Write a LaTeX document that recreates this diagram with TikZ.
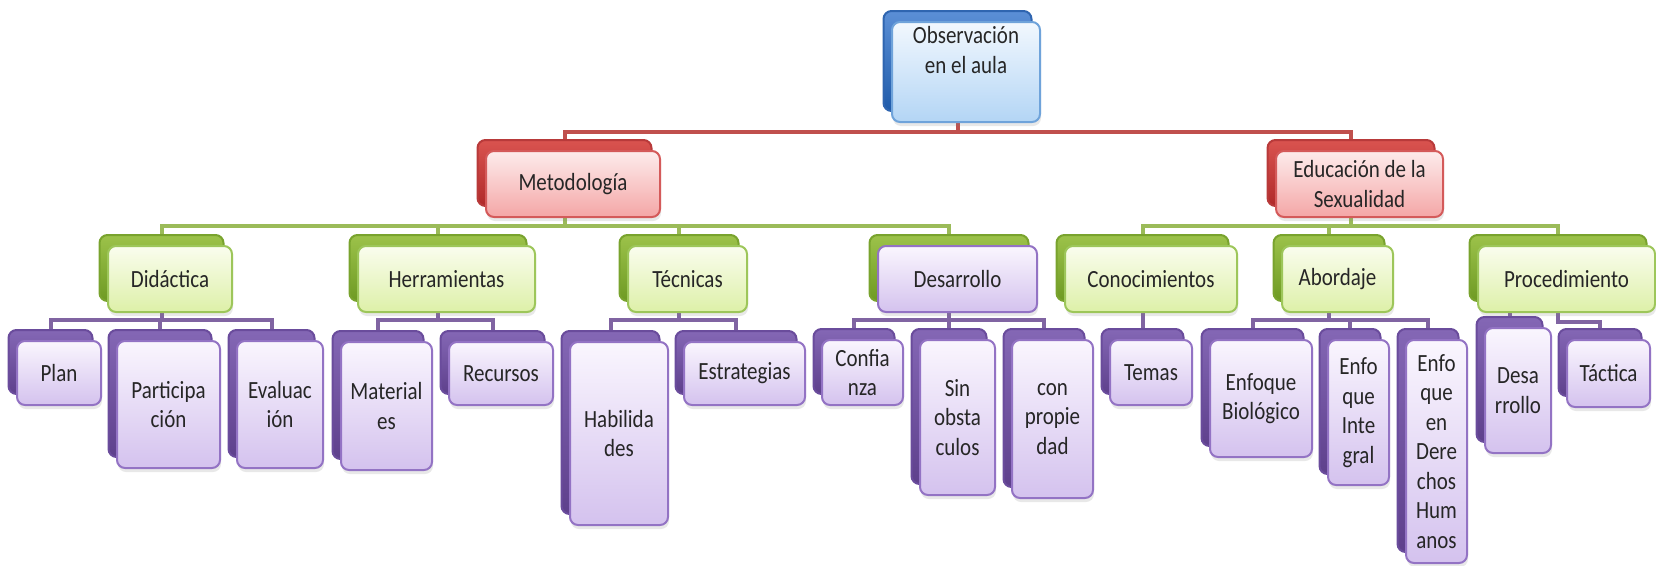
\documentclass[tikz,border=0pt]{standalone}
\usepackage{fontspec}
\setmainfont{Carlito}[FakeStretch=0.85]
\usetikzlibrary{shadows}
\pgfdeclarelayer{bg}
\pgfsetlayers{bg,main}
\definecolor{cRed}{HTML}{C0504D}
\definecolor{cGreen}{HTML}{9BBB59}
\definecolor{cPurple}{HTML}{8064A2}
\definecolor{bBlueT}{HTML}{5B8FD6}\definecolor{bBlueB}{HTML}{1F5BAA}\definecolor{bBlueD}{HTML}{2F65B0}
\definecolor{fBlueT}{HTML}{F2F8FE}\definecolor{fBlueB}{HTML}{B3D5F5}\definecolor{fBlueD}{HTML}{6FA3DA}
\definecolor{bRedT}{HTML}{D9534F}\definecolor{bRedB}{HTML}{B02A2A}\definecolor{bRedD}{HTML}{B83A3A}
\definecolor{fRedT}{HTML}{FDECEC}\definecolor{fRedB}{HTML}{F4A6A6}\definecolor{fRedD}{HTML}{D45A5A}
\definecolor{bGreenT}{HTML}{9CC24A}\definecolor{bGreenB}{HTML}{6E9A23}\definecolor{bGreenD}{HTML}{79A32E}
\definecolor{fGreenT}{HTML}{FAFDEE}\definecolor{fGreenB}{HTML}{DDF0A8}\definecolor{fGreenD}{HTML}{9DC65A}
\definecolor{bPurT}{HTML}{8467B5}\definecolor{bPurB}{HTML}{5E408C}\definecolor{bPurD}{HTML}{6A4C9C}
\definecolor{fPurT}{HTML}{FAF6FE}\definecolor{fPurB}{HTML}{D4C2EE}\definecolor{fPurD}{HTML}{9373C4}
\definecolor{txt}{HTML}{262626}
\tikzset{
  card/.style={rectangle, rounded corners=8pt, line width=2pt, inner sep=2pt,
    align=center, text=txt, font=\fontsize{24.7}{29.5}\selectfont},
  frontcard/.style={card, drop shadow={opacity=0.18, shadow xshift=1pt, shadow yshift=-4pt}},
  bblue/.style={card, draw=bBlueD, top color=bBlueT, bottom color=bBlueB},
  fblue/.style={frontcard, draw=fBlueD, top color=fBlueT, bottom color=fBlueB},
  bred/.style={card, draw=bRedD, top color=bRedT, bottom color=bRedB},
  fred/.style={frontcard, draw=fRedD, top color=fRedT, bottom color=fRedB},
  bgreen/.style={card, draw=bGreenD, top color=bGreenT, bottom color=bGreenB},
  fgreen/.style={frontcard, draw=fGreenD, top color=fGreenT, bottom color=fGreenB},
  bpur/.style={card, draw=bPurD, top color=bPurT, bottom color=bPurB},
  fpur/.style={frontcard, draw=fPurD, top color=fPurT, bottom color=fPurB},
  redline/.style={draw=cRed, line width=4pt},
  greenline/.style={draw=cGreen, line width=4pt},
  purline/.style={draw=cPurple, line width=4pt},
}
% #1 name, #2 back style, #3 front style, #4 cx, #5 cy, #6 w, #7 h, #8 text
\newcommand\cardbox[8]{%
  \node[#2, minimum width=#6pt, minimum height=#7pt] (#1b) at ({#4-8.5},{#5-11}) {};
  \node[#3, minimum width=#6pt, minimum height=#7pt] (#1) at (#4,#5) {#8};
}
\begin{document}
\begin{tikzpicture}[x=1pt,y=-1pt]
\useasboundingbox (0,0) rectangle (1656,565);
% top
\node[bblue, minimum width=148pt, minimum height=100pt] (obsb) at (957.5,61) {};
\node[fblue, minimum width=148pt, minimum height=100pt] (obs) at (966,72) {};
\node[card, inner sep=0pt] (obst) at (966,50) {Observación\\en el aula};
% level 1
\cardbox{met}{bred}{fred}{573}{184}{174}{66}{Metodología}
\cardbox{edu}{bred}{fred}{1359.5}{184}{167}{66}{Educación de la\\Sexualidad}
% level 2
\cardbox{did}{bgreen}{fgreen}{170}{279}{124}{66}{Didáctica}
\cardbox{her}{bgreen}{fgreen}{446.5}{279}{177}{66}{Herramientas}
\cardbox{tec}{bgreen}{fgreen}{687.5}{279}{119}{66}{Técnicas}
\cardbox{des}{bgreen}{fpur}{957.5}{279}{159}{66}{Desarrollo}
\cardbox{con}{bgreen}{fgreen}{1151}{279}{172}{66}{Conocimientos}
\cardbox{abo}{bgreen}{fgreen}{1337.5}{279}{111}{66}{Abordaje}
\cardbox{pro}{bgreen}{fgreen}{1566.5}{279}{177}{66}{Procedimiento}
% level 3
\cardbox{plan}{bpur}{fpur}{59}{373}{84}{64}{Plan}
\cardbox{part}{bpur}{fpur}{168.5}{404.5}{103}{127}{Participa\\ción}
\cardbox{eval}{bpur}{fpur}{280}{404.5}{86}{127}{Evaluac\\ión}
\cardbox{mat}{bpur}{fpur}{386.5}{406}{91}{128}{Material\\es}
\cardbox{rec}{bpur}{fpur}{501}{373.5}{104}{63}{Recursos}
\cardbox{hab}{bpur}{fpur}{619}{433.5}{98}{183}{Habilida\\des}
\cardbox{est}{bpur}{fpur}{744.5}{373.5}{121}{63}{Estrategias}
\cardbox{conf}{bpur}{fpur}{862.5}{372.5}{81}{65}{Confia\\nza}
\cardbox{sin}{bpur}{fpur}{957.5}{417.5}{75}{155}{Sin\\obsta\\culos}
\cardbox{cpro}{bpur}{fpur}{1052.5}{419}{81}{158}{con\\propie\\dad}
\cardbox{tem}{bpur}{fpur}{1151}{372.5}{82}{65}{Temas}
\cardbox{ebio}{bpur}{fpur}{1261}{398.5}{102}{117}{Enfoque\\Biológico}
\cardbox{eint}{bpur}{fpur}{1358.5}{412.5}{61}{145}{Enfo\\que\\Inte\\gral}
\cardbox{eder}{bpur}{fpur}{1436.5}{451.5}{61}{223}{Enfo\\que\\en\\Dere\\chos\\Hum\\anos}
\cardbox{pdes}{bpur}{fpur}{1518}{390.5}{66}{125}{Desa\\rrollo}
\cardbox{tac}{bpur}{fpur}{1608.5}{373.5}{83}{67}{Táctica}
% connectors
\coordinate (rbar) at (0,132);
\coordinate (gbar) at (0,226);
\coordinate (pbar) at (0,320);
\coordinate (pbar2) at (0,322);
\coordinate (pbar3) at (0,300);
\begin{pgfonlayer}{bg}
\foreach \c in {met,edu}
  \draw[redline] (obsb.center) -- (obsb.center |- rbar) -| (\c b.north);
\foreach \c in {did,her,tec,des}
  \draw[greenline] (metb.center) -- (metb.center |- gbar) -| (\c b.north);
\foreach \c in {con,abo,pro}
  \draw[greenline] (edub.center) -- (edub.center |- gbar) -| (\c b.north);
\foreach \c in {plan,part,eval}
  \draw[purline] (didb.center) -- (didb.center |- pbar) -| (\c b.north);
\foreach \c in {mat,rec}
  \draw[purline] (herb.center) -- (herb.center |- pbar) -| (\c b.north);
\foreach \c in {hab,est}
  \draw[purline] (tecb.center) -- (tecb.center |- pbar) -| (\c b.north);
\foreach \c in {conf,sin,cpro}
  \draw[purline] (desb.center) -- (desb.center |- pbar) -| (\c b.north);
\draw[purline] (conb.center) -- (temb.north);
\foreach \c in {ebio,eint,eder}
  \draw[purline] (abob.center) -- (abob.center |- pbar) -| (\c b.north);
\draw[purline] (prob.center) -- (prob.center |- pbar3) -| (pdesb.north);
\draw[purline] (prob.center) -- (prob.center |- pbar2) -| (tacb.north);
\end{pgfonlayer}
\end{tikzpicture}
\end{document}
